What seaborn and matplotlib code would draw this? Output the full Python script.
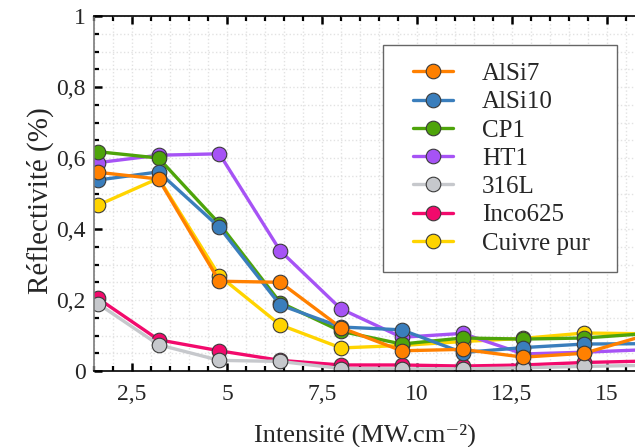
import matplotlib
matplotlib.use("Agg")
import matplotlib.pyplot as plt
from matplotlib.ticker import MultipleLocator, FuncFormatter
from matplotlib.patches import Rectangle
import seaborn as sns
import pandas as pd

sns.set_style("white")
plt.rcParams['font.family'] = ['Liberation Serif', 'DejaVu Serif']

intensite = [1.6, 3.2, 4.8, 6.4, 8.0, 9.6, 11.2, 12.8, 14.4, 16.0]
series_names = ["AlSi7", "AlSi10", "CP1", "HT1", "316L", "Inco625", "Cuivre pur"]
alsi7 = [0.560, 0.541, 0.253, 0.250, 0.122, 0.057, 0.061, 0.039, 0.050, 0.100]
alsi10 = [0.538, 0.561, 0.405, 0.186, 0.124, 0.116, 0.052, 0.066, 0.076, 0.077]
cp1 = [0.618, 0.600, 0.415, 0.193, 0.112, 0.076, 0.093, 0.090, 0.093, 0.105]
ht1 = [0.587, 0.608, 0.612, 0.339, 0.175, 0.095, 0.106, 0.048, 0.053, 0.060]
l316 = [0.190, 0.074, 0.030, 0.027, 0.007, 0.006, 0.006, 0.009, 0.013, 0.016]
inco625 = [0.205, 0.088, 0.057, 0.030, 0.017, 0.017, 0.014, 0.017, 0.024, 0.028]
cuivre = [0.467, 0.543, 0.268, 0.130, 0.065, 0.072, 0.083, 0.092, 0.107, 0.105]
colors = ["#FF8000", "#3A7EBC", "#4EA40A", "#A653F5", "#C6C8CC", "#F20A6C", "#FFD400"]

values = [alsi7, alsi10, cp1, ht1, l316, inco625, cuivre]
df = pd.concat([pd.DataFrame({"x": intensite, "y": v, "serie": n})
                for n, v in zip(series_names, values)], ignore_index=True)

fig = plt.figure(figsize=(6.35, 4.47), dpi=100)
ax = fig.add_axes([0.148, 0.170, 0.852, 0.794])

handles = {}
for name, col in reversed(list(zip(series_names, colors))):
    sub = df[df["serie"] == name]
    sns.lineplot(data=sub, x="x", y="y", color=col, marker="o", markersize=10.5,
                 markeredgecolor="#3a3a3a", markeredgewidth=0.8, linewidth=2.4,
                 label=name, ax=ax, sort=False, legend=False)
    handles[name] = ax.lines[-1]

ax.set_xlim(1.5, 15.74)
ax.set_ylim(0, 1)
ax.xaxis.set_major_locator(MultipleLocator(2.5))
ax.xaxis.set_minor_locator(MultipleLocator(0.5))
ax.yaxis.set_major_locator(MultipleLocator(0.2))
ax.yaxis.set_minor_locator(MultipleLocator(0.05))

def fmt(v, pos):
    s = ("%.1f" % v).rstrip("0").rstrip(".")
    return s.replace(".", ",")
ax.xaxis.set_major_formatter(FuncFormatter(fmt))
ax.yaxis.set_major_formatter(FuncFormatter(fmt))

ax.grid(True, which="both", color="#E2E2E2", linestyle=":", linewidth=1.0)
ax.set_axisbelow(True)

ax.tick_params(axis="both", which="both", direction="in", color="black",
               top=True, bottom=True, left=True, right=False)
ax.tick_params(axis="both", which="major", length=6, width=1.8, labelsize=17)
ax.tick_params(axis="both", which="minor", length=3.5, width=1.6)
ax.tick_params(axis="x", which="major", pad=9)
ax.tick_params(axis="y", which="major", pad=6)

for s in ["top", "bottom"]:
    ax.spines[s].set_color("black")
    ax.spines[s].set_linewidth(1.2)
ax.spines["left"].set_color("#7a7a7a")
ax.spines["left"].set_linewidth(1.2)
ax.spines["right"].set_visible(False)

ax.set_xlabel("Intensité (MW.cm\u207b\u00b2)", fontsize=19, labelpad=14)
ax.set_ylabel("Réflectivité (%)", fontsize=21)
ax.yaxis.set_label_coords(-0.074, 0.48)

# legend frame
frame = Rectangle((0.534, 0.279), 0.967 - 0.534, 0.918 - 0.279, transform=ax.transAxes,
                  facecolor="white", edgecolor="#666666", linewidth=1.0, zorder=10)
ax.add_patch(frame)

leg = ax.legend([handles[n] for n in series_names], series_names,
                loc="upper left", bbox_to_anchor=(0.590, 0.869),
                fontsize=18, frameon=False,
                handlelength=1.6, handletextpad=1.15, labelspacing=0.23,
                borderpad=0, borderaxespad=0)
leg.set_zorder(11)

fig.savefig("out.png", dpi=100)
